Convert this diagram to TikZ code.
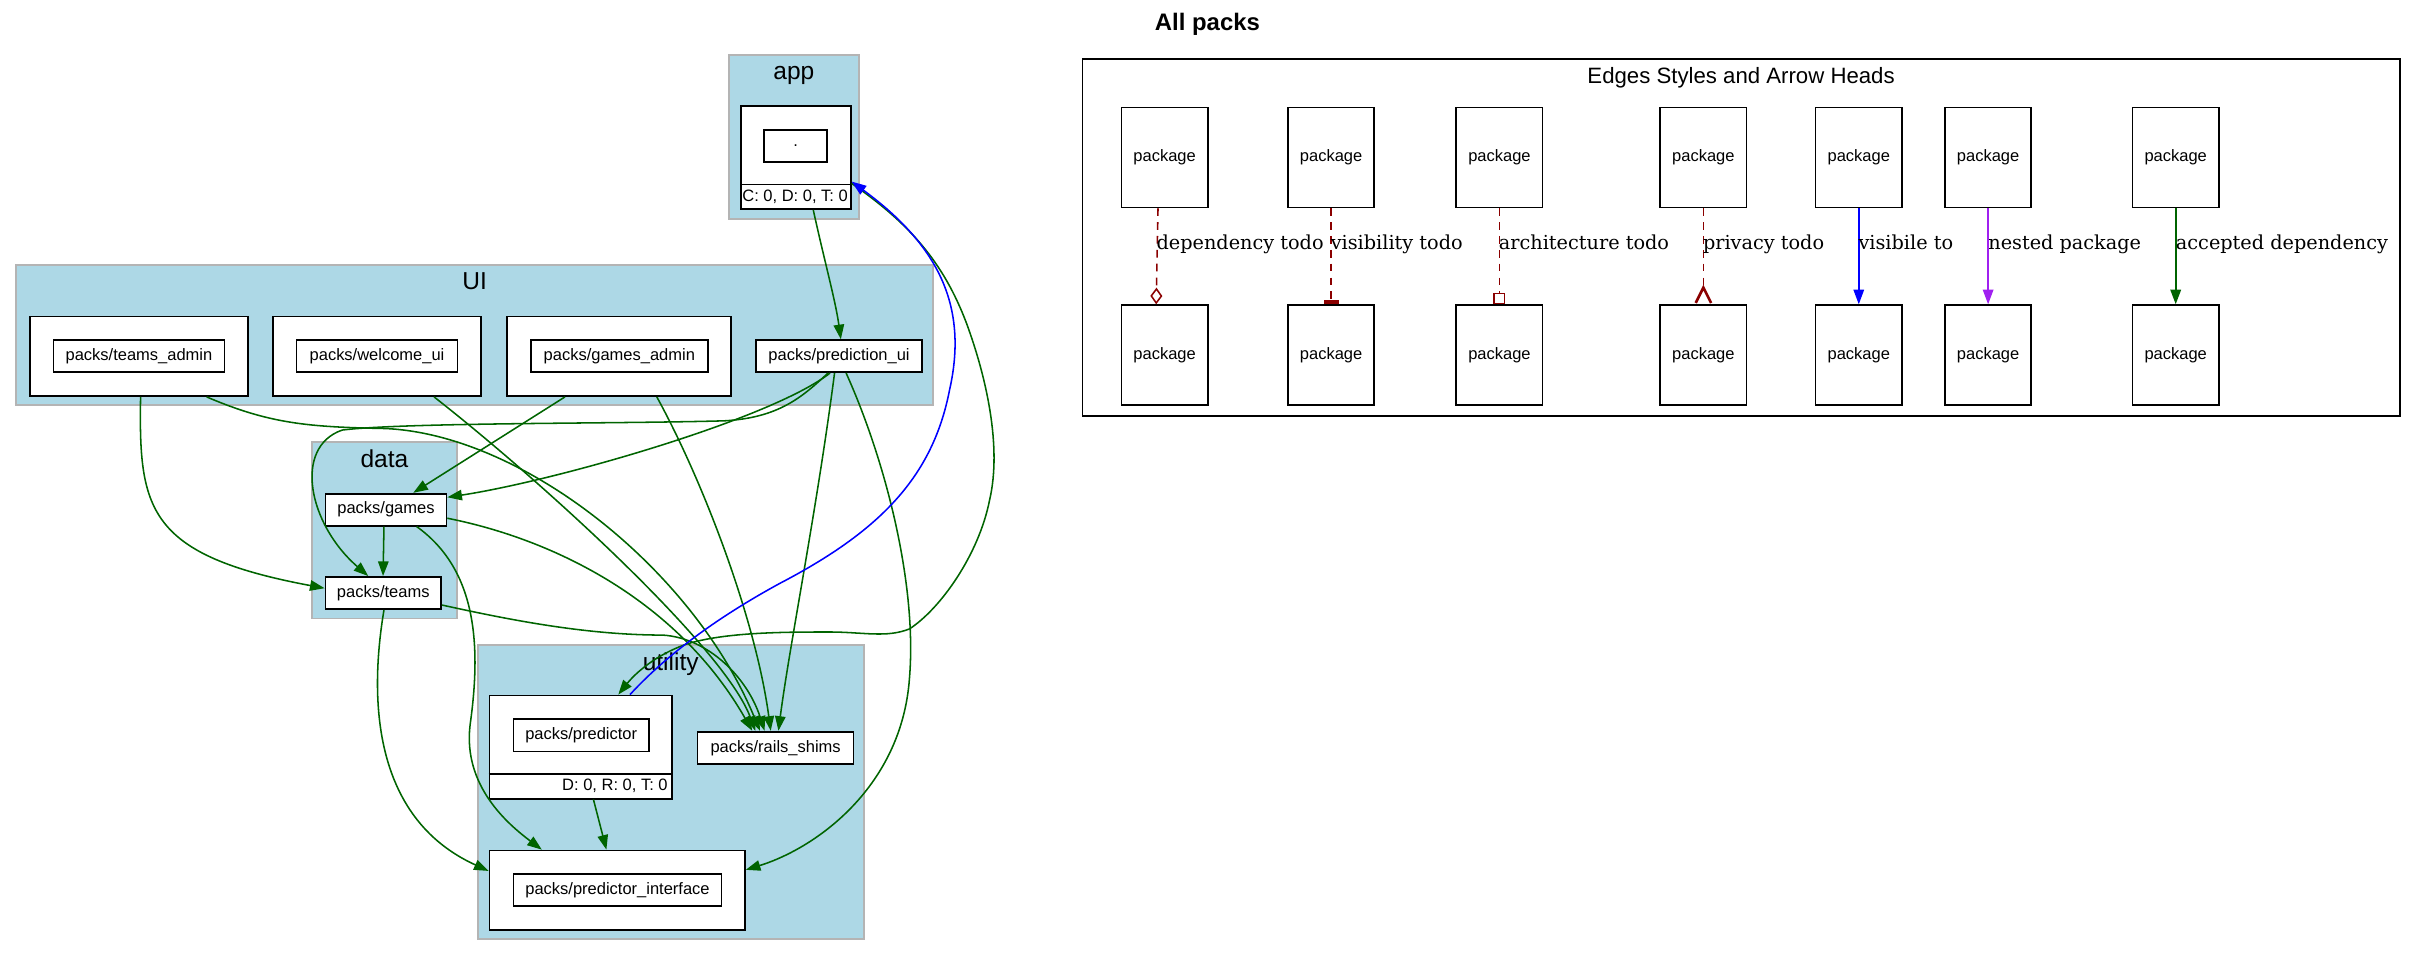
\documentclass[tikz,border=0pt]{standalone}
\usepackage{fontspec}
\setmainfont{Liberation Sans}
\newfontfamily\lblfont{DejaVu Serif}
\usetikzlibrary{arrows.meta}
\definecolor{dgreen}{HTML}{006400}
\definecolor{dred}{HTML}{8B0000}
\definecolor{lblue}{HTML}{ADD8E6}
\definecolor{cgray}{HTML}{B4B4B4}
\definecolor{vpurple}{HTML}{A020F0}
\begin{document}
\begin{tikzpicture}[x=1pt,y=-1pt,
  clus/.style={draw=cgray, fill=lblue, line width=1.2pt},
  pbox/.style={draw=black, fill=white, line width=1.1pt, inner sep=0pt, anchor=north west, font=\fontsize{10.7}{12.8}\selectfont},
  clab/.style={font=\fontsize{15.9}{19}\selectfont, anchor=base, inner sep=0pt},
  footer/.style={font=\fontsize{10.7}{12.8}\selectfont, inner sep=0pt},
  lbl/.style={font=\lblfont\fontsize{12.5}{15}\selectfont, anchor=base west, inner sep=0pt},
  gvtip/.style={-{Triangle[length=9.5pt,width=6.8pt]}},
  dep/.style={draw=dgreen, line width=1pt, gvtip},
  vis/.style={draw=blue, line width=1pt, gvtip},
  todo/.style={draw=dred, line width=1pt, dash pattern=on 5pt off 4pt},
  lpk/.style={pbox, minimum width=56pt, minimum height=64.8pt},
]
\useasboundingbox (0,0) rectangle (1568,620.2);

% ---------- clusters ----------
\draw[clus] (472.8,35.7) rectangle (557.3,142.3);
\node[clab] (lapp) at (515.0,51.8) {app};
\draw[clus] (10.6,171.9) rectangle (605.2,262.9);
\node[clab] (lui) at (307.9,188.1) {UI};
\draw[clus] (202.6,286.5) rectangle (296.2,401.2);
\node[clab] (ldata) at (249.4,303.1) {data};
\draw[clus] (309.9,418.2) rectangle (560.3,609.1);
\node[clab] (lutil) at (435.1,435.2) {utility};

% ---------- app ----------
\node[pbox, minimum width=71.2pt, minimum height=66.8pt] (app) at (480.2,68.3) {};
\node[pbox, minimum width=40.9pt, minimum height=20.9pt] (appin) at (495.2,83.7) {.};
\draw[line width=1.1pt] ([yshift=-51.3pt]app.north west) -- ([yshift=-51.3pt]app.north east);
\node[footer, anchor=base] (appft) at (515.8,130.8) {C: 0, D: 0, T: 0};

% ---------- UI ----------
\node[pbox, minimum width=141.4pt, minimum height=51.7pt] (ta) at (18.9,204.7) {};
\node[pbox, minimum width=110.8pt, minimum height=20.8pt] (tain) at (34.2,220.1) {packs/teams\_admin};
\node[pbox, minimum width=135.1pt, minimum height=51.7pt] (wu) at (176.5,204.7) {};
\node[pbox, minimum width=104.5pt, minimum height=20.8pt] (wuin) at (191.8,220.1) {packs/welcome\_ui};
\node[pbox, minimum width=145.1pt, minimum height=51.7pt] (ga) at (328.5,204.7) {};
\node[pbox, minimum width=114.7pt, minimum height=20.8pt] (gain) at (343.9,220.1) {packs/games\_admin};
\node[pbox, minimum width=108.1pt, minimum height=20.8pt] (pui) at (489.7,220.1) {packs/prediction\_ui};

% ---------- data ----------
\node[pbox, minimum width=78.5pt, minimum height=20.8pt] (games) at (210.6,319.7) {packs/games};
\node[pbox, minimum width=75pt, minimum height=20.9pt] (teams) at (210.6,373.7) {packs/teams};

% ---------- utility ----------
\node[pbox, minimum width=118.6pt, minimum height=67pt] (pred) at (317,450.6) {};
\node[pbox, minimum width=87.8pt, minimum height=21pt] (predin) at (332.6,466) {packs/predictor};
\draw[line width=1.1pt] ([yshift=-51.6pt]pred.north west) -- ([yshift=-51.6pt]pred.north east);
\node[footer, anchor=base east] (predft) at (433.3,512.5) {D: 0, R: 0, T: 0};
\node[pbox, minimum width=101.2pt, minimum height=20.9pt] (rails) at (452,474.1) {packs/rails\_shims};
\node[pbox, minimum width=165.7pt, minimum height=51.5pt] (pint) at (317,551.2) {};
\node[pbox, minimum width=134.9pt, minimum height=20.7pt] (pintin) at (332.6,566.6) {packs/predictor\_interface};

% ---------- edges ----------
\draw[dep] ([xshift=47.4pt]app.south west) .. controls (535,170) and (542,195) .. ([xshift=55.8pt]pui.north west);
\draw[dep] ([xshift=48.8pt]pui.south west) .. controls (500,272) and (360,312) .. ([yshift=-2.9pt]games.north east);
\draw[dep] ([xshift=47.5pt]pui.south west) .. controls (520,258) and (505,271) .. (470,273) .. controls (400,275) and (262,274) .. (222,279) .. controls (190,290) and (200,340) .. ([xshift=28.3pt]teams.north west);
\draw[dep] ([xshift=51.7pt]pui.south west) .. controls (530,330) and (512,420) .. ([xshift=53pt]rails.north west);
\draw[dep] ([xshift=59.2pt]pui.south west) .. controls (575,300) and (595,380) .. (590,440) .. controls (585,510) and (530,550) .. ([yshift=-13.1pt]pint.north east);
\draw[dep] ([xshift=72.3pt]ta.south west) .. controls (90,330) and (95,360) .. ([yshift=-7.9pt]teams.north west);
\draw[dep] ([xshift=115.2pt]ta.south west) .. controls (175,275) and (200,277) .. (250,278) .. controls (340,282) and (450,370) .. ([xshift=41pt]rails.north west);
\draw[dep] ([xshift=105.1pt]wu.south west) .. controls (350,311) and (470,420) .. ([xshift=38pt]rails.north west);
\draw[dep] ([xshift=38pt]ga.south west) -- ([xshift=57.5pt]games.north west);
\draw[dep] ([xshift=97.6pt]ga.south west) .. controls (455,310) and (490,400) .. ([xshift=48pt]rails.north west);
\draw[dep] ([xshift=38.5pt]games.south west) -- ([xshift=37.9pt]teams.north west);
\draw[dep] ([yshift=5.4pt]games.south east) .. controls (360,350) and (440,390) .. ([xshift=36pt]rails.north west);
\draw[dep] ([xshift=59.7pt]games.south west) .. controls (310,370) and (312,420) .. (305,470) .. controls (300,510) and (330,535) .. ([xshift=34.5pt]pint.north west);
\draw[dep] ([yshift=3.2pt]teams.south east) .. controls (330,402) and (380,412) .. (430,412) .. controls (460,414) and (485,440) .. ([xshift=44pt]rails.north west);
\draw[dep] ([xshift=38.5pt]teams.south west) .. controls (240,450) and (240,530) .. ([yshift=-13.8pt]pint.north west);
\draw[dep] ([xshift=68pt]pred.south west) -- ([xshift=76.4pt]pint.north west);
\draw[dep] ([yshift=-50.7pt]app.north east) .. controls (590,145) and (612,170) .. (627,209.7) .. controls (640,245) and (650,290) .. (642,324.3) .. controls (635,360) and (610,395) .. (590,408) .. controls (575,414) and (560,410) .. (538,410) .. controls (510,410) and (470,410) .. (445,418) .. controls (425,425) and (412,437) .. ([xshift=84.1pt]pred.north west);
\draw[vis] ([xshift=91.7pt]pred.north west) .. controls (435,422) and (470,398) .. (506,378.4) .. controls (570,345) and (605,310) .. (616,253) .. controls (628,200) and (610,160) .. ([yshift=-49.5pt]app.north east);

% ---------- title ----------
\node[font=\bfseries\fontsize{15.5}{18}\selectfont, anchor=base, inner sep=0pt] (title) at (783.3,19.7) {All packs};

% ---------- legend ----------
\draw[line width=1.1pt] (702.3,38.5) rectangle (1556.8,269.8);
\node[font=\fontsize{14.4}{17}\selectfont, anchor=base, inner sep=0pt] (ltitle) at (1129.5,54.1) {Edges Styles and Arrow Heads};

\node[lpk] (l1t) at (727,69.2) {package};    \node[lpk] (l1b) at (727,197.4) {package};
\node[lpk] (l2t) at (835,69.2) {package};    \node[lpk] (l2b) at (835,197.4) {package};
\node[lpk] (l3t) at (944.2,69.2) {package};  \node[lpk] (l3b) at (944.2,197.4) {package};
\node[lpk] (l4t) at (1076.5,69.2) {package}; \node[lpk] (l4b) at (1076.5,197.4) {package};
\node[lpk] (l5t) at (1177.3,69.2) {package}; \node[lpk] (l5b) at (1177.3,197.4) {package};
\node[lpk] (l6t) at (1261.2,69.2) {package}; \node[lpk] (l6b) at (1261.2,197.4) {package};
\node[lpk] (l7t) at (1382.9,69.2) {package}; \node[lpk] (l7b) at (1382.9,197.4) {package};

\draw[todo, -{Diamond[open, length=10.8pt, width=7.8pt]}] ([xshift=-4.3pt]l1t.south) -- ([xshift=-5.5pt]l1b.north);
\draw[todo, -{Rectangle[length=2.6pt, width=9.6pt]}] (l2t.south) -- (l2b.north);
\draw[todo, -{Rectangle[open, length=7.6pt, width=7.8pt]}] (l3t.south) -- (l3b.north);
\draw[todo, -{Straight Barb[reversed, length=10pt, width=10pt, line width=1.7pt]}] (l4t.south) -- (l4b.north);
\draw[vis] (l5t.south) -- (l5b.north);
\draw[draw=vpurple, line width=1pt, gvtip] (l6t.south) -- (l6b.north);
\draw[dep, line width=1.3pt] (l7t.south) -- (l7b.north);

\node[lbl] (t1) at (750.1,161.7) {dependency todo};
\node[lbl] (t2) at (863.1,161.7) {visibility todo};
\node[lbl] (t3) at (972.2,161.7) {architecture todo};
\node[lbl] (t4) at (1104.6,161.7) {privacy todo};
\node[lbl] (t5) at (1205.5,161.7) {visibile to};
\node[lbl] (t6) at (1289.7,161.7) {nested package};
\node[lbl] (t7) at (1411.4,161.7) {accepted dependency};
\end{tikzpicture}
\end{document}
